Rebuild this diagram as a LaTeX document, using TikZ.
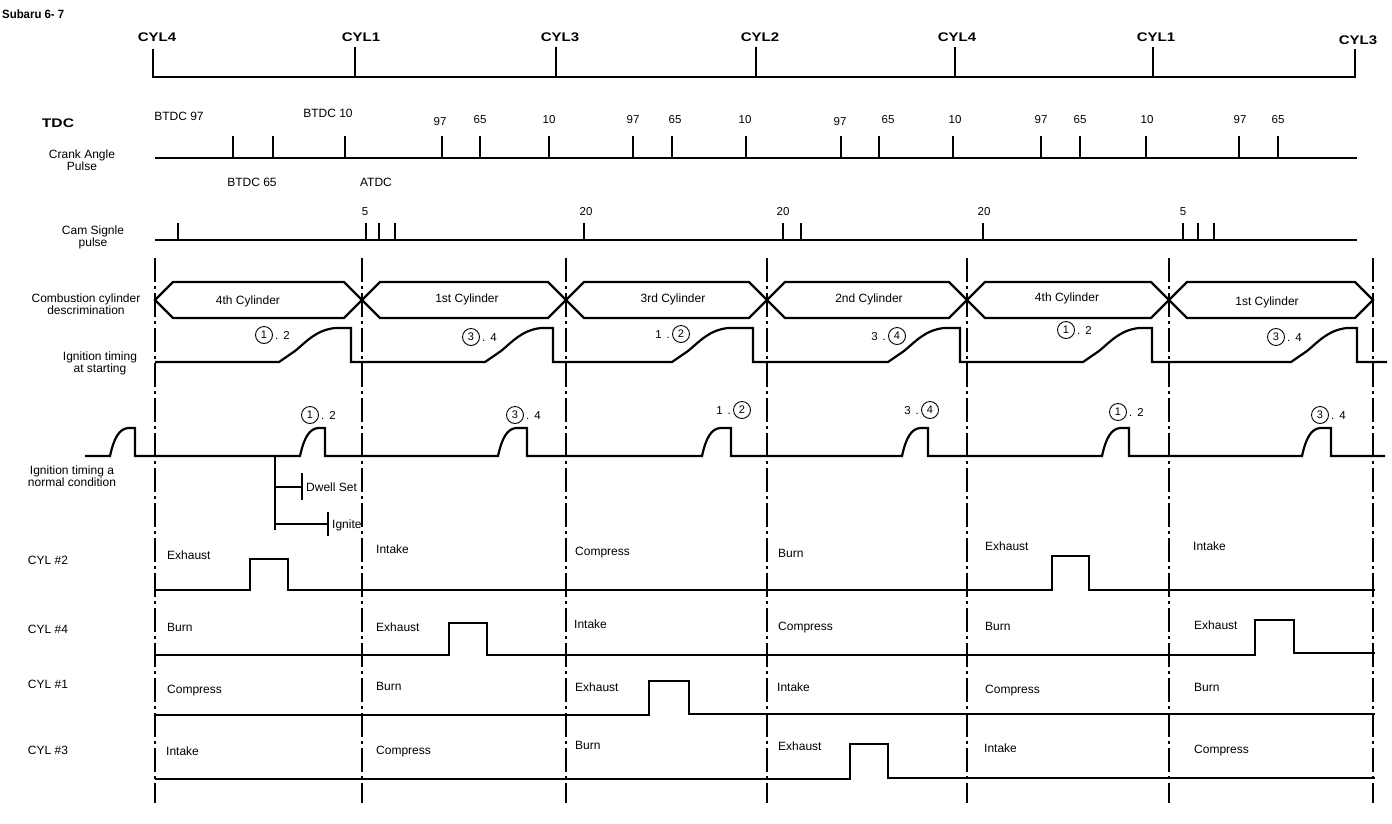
\documentclass[tikz,border=0pt]{standalone}
\usepackage{fontspec}
\usepackage{graphicx}
\setmainfont{Liberation Sans}
\tikzset{
  lbl/.style={font=\fontsize{12}{12}\selectfont, inner sep=0pt, text height=8.6pt, text depth=0pt},
  mlbl/.style={font=\fontsize{12}{12}\selectfont, inner sep=0pt, align=center},
  num/.style={font=\fontsize{11.5}{12}\selectfont, inner sep=0pt, text height=8.3pt, text depth=0pt},
  cyl/.style={font=\bfseries\fontsize{12.5}{13}\selectfont, inner sep=0pt},
  cnum/.style={circle, draw, line width=0.9pt, inner sep=0pt, minimum size=17pt, font=\fontsize{11}{11}\selectfont},
  sig/.style={line width=2.2pt, line join=miter},
  rule/.style={line width=2pt},
  thinl/.style={line width=1.1pt},
  ddot/.style={line width=2.6pt, dash pattern=on 24pt off 4pt on 3pt off 4pt},
  cycline/.style={line width=2.6pt, line join=miter},
}
\begin{document}
\begin{tikzpicture}[x=1pt,y=-1pt]
\useasboundingbox (0,0) rectangle (1392,823);

% title
\node[font=\bfseries\fontsize{12}{13}\selectfont, inner sep=0pt, anchor=west] (title) at (2,14) {\scalebox{0.95}[1]{Subaru 6- 7}};

% top ruler
\draw[rule] (153,49) -- (153,77) -- (1355,77) -- (1355,49);
\foreach \x in {355,556,756,955,1153} \draw[rule] (\x,47) -- (\x,77);
\node[cyl] (r1) at (157,37) {\scalebox{1.2}[1]{CYL4}};
\node[cyl] (r2) at (361,37) {\scalebox{1.2}[1]{CYL1}};
\node[cyl] (r3) at (560,37) {\scalebox{1.2}[1]{CYL3}};
\node[cyl] (r4) at (760,37) {\scalebox{1.2}[1]{CYL2}};
\node[cyl] (r5) at (957,37) {\scalebox{1.2}[1]{CYL4}};
\node[cyl] (r6) at (1156,37) {\scalebox{1.2}[1]{CYL1}};
\node[cyl] (r7) at (1358,40) {\scalebox{1.2}[1]{CYL3}};

% TDC
\node[cyl] (tdc) at (58,123) {\scalebox{1.25}[1]{TDC}};

% crank angle pulse
\node[mlbl] (crank) at (82,160) {Crank Angle\\Pulse};
\draw[rule] (155,158) -- (1357,158);
\foreach \x in {233,273,345,442,480,549,633,672,746,841,879,953,1041,1080,1146,1239,1278}
  \draw[rule] (\x,136) -- (\x,158);
\node[lbl] (b97) at (179,116) {BTDC 97};
\node[lbl] (b10) at (328,113) {BTDC 10};
\foreach \x/\y/\t in {440/121/97, 480/119/65, 549/119/10, 633/119/97, 675/119/65, 745/119/10,
   840/121/97, 888/119/65, 955/119/10, 1041/119/97, 1080/119/65, 1147/119/10, 1240/119/97, 1278/119/65}
  \node[num] at (\x,\y) {\t};
\node[lbl] (b65) at (252,182) {BTDC 65};
\node[lbl] (atdc) at (376,182) {ATDC};

% cam signal pulse
\node[mlbl] (cam) at (93,237) {Cam Signle\\pulse};
\draw[rule] (155,240) -- (1357,240);
\foreach \x in {178,366,379,395,584,783,801,983,1183,1198,1214}
  \draw[rule] (\x,223) -- (\x,240);
\foreach \x/\t in {365/5, 586/20, 783/20, 984/20, 1183/5}
  \node[num] at (\x,211) {\t};

% dash-dot verticals
\foreach \x in {155,362,566,767,967,1169,1373}
  \draw[ddot] (\x,258) -- (\x,803);

% combustion cylinder discrimination
\node[mlbl] (comb) at (86,304) {Combustion cylinder\\descrimination};
\foreach \a/\b in {155/362, 362/566, 566/767, 767/967, 967/1169, 1169/1373}
  \draw[sig] (\a,300) -- (\a+18,282) -- (\b-18,282) -- (\b,300) -- (\b-18,318) -- (\a+18,318) -- cycle;
\node[lbl] (h1) at (248,300) {4th Cylinder};
\node[lbl] (h2) at (467,298) {1st Cylinder};
\node[lbl] (h3) at (673,298) {3rd Cylinder};
\node[lbl] (h4) at (869,298) {2nd Cylinder};
\node[lbl] (h5) at (1067,297) {4th Cylinder};
\node[lbl] (h6) at (1267,301) {1st Cylinder};

% ignition timing at starting
\node[mlbl] (istart) at (100,363) {Ignition timing\\at starting};
\draw[sig] (155,362)
  \foreach \r/\d in {279/351, 485/553, 672/753, 888/960, 1083/1152, 1291/1357} {
    -- (\r,362) -- (\r+16,351) .. controls (\r+27,342) and (\r+37,330) .. (\r+56,328) -- (\d,328) -- (\d,362)
  } -- (1387,362);
\node[cnum] (s1) at (264,335) {1};
\node[num, anchor=west] at ([xshift=2pt]s1.east) {.\hspace{5pt}2};
\node[cnum] (s2) at (471,337) {3};
\node[num, anchor=west] at ([xshift=2pt]s2.east) {.\hspace{5pt}4};
\node[cnum] (s3) at (681,334) {2};
\node[num, anchor=east] at ([xshift=-2pt]s3.west) {1\hspace{5pt}.};
\node[cnum] (s4) at (897,336) {4};
\node[num, anchor=east] at ([xshift=-2pt]s4.west) {3\hspace{5pt}.};
\node[cnum] (s5) at (1066,330) {1};
\node[num, anchor=west] at ([xshift=2pt]s5.east) {.\hspace{5pt}2};
\node[cnum] (s6) at (1276,337) {3};
\node[num, anchor=west] at ([xshift=2pt]s6.east) {.\hspace{5pt}4};

% ignition timing at normal condition
\node[mlbl] (inorm) at (72,476) {Ignition timing a\\normal condition};
\draw[sig] (85,456)
  \foreach \r/\d in {110/135, 300/325, 498/527, 702/731, 902/928, 1102/1129, 1302/1331} {
    -- (\r,456) .. controls (\r+4,438) and (\r+9,429) .. (\r+18,428) -- (\d,428) -- (\d,456)
  } -- (1385,456);
\node[cnum] (n1) at (310,415) {1};
\node[num, anchor=west] at ([xshift=2pt]n1.east) {.\hspace{5pt}2};
\node[cnum] (n2) at (515,415) {3};
\node[num, anchor=west] at ([xshift=2pt]n2.east) {.\hspace{5pt}4};
\node[cnum] (n3) at (742,410) {2};
\node[num, anchor=east] at ([xshift=-2pt]n3.west) {1\hspace{5pt}.};
\node[cnum] (n4) at (930,410) {4};
\node[num, anchor=east] at ([xshift=-2pt]n4.west) {3\hspace{5pt}.};
\node[cnum] (n5) at (1118,412) {1};
\node[num, anchor=west] at ([xshift=2pt]n5.east) {.\hspace{5pt}2};
\node[cnum] (n6) at (1320,415) {3};
\node[num, anchor=west] at ([xshift=2pt]n6.east) {.\hspace{5pt}4};

% dwell / ignite markers
\coordinate (dtop) at (275,456);
\coordinate (dbot) at (275,530);
\draw[line width=2.6pt] (dtop) -- (dbot);
\coordinate (dw) at (275,487);
\coordinate (ig) at (275,524);
\draw[thinl] (dw) -- (302,487);
\draw[thinl] (302,473) -- (302,500);
\node[lbl, anchor=west] (dwell) at (306,487) {Dwell Set};
\draw[thinl] (ig) -- (328,524);
\draw[thinl] (328,512) -- (328,536);
\node[lbl, anchor=west] (ignite) at (332,524) {Ignite};

% cylinder strokes
\node[lbl] (cy2) at (48,560) {CYL \#2};
\node[lbl] (cy4) at (48,629) {CYL \#4};
\node[lbl] (cy1) at (48,684) {CYL \#1};
\node[lbl] (cy3) at (48,750) {CYL \#3};

\draw[cycline] (155,590) -- (250,590) -- (250,559) -- (288,559) -- (288,590) -- (1052,590) -- (1052,556) -- (1089,556) -- (1089,590) -- (1375,590);
\draw[cycline] (155,655) -- (449,655) -- (449,623) -- (487,623) -- (487,655) -- (1255,655) -- (1255,620) -- (1294,620) -- (1294,653) -- (1375,653);
\draw[cycline] (155,715) -- (649,715) -- (649,681) -- (689,681) -- (689,714) -- (1375,714);
\draw[cycline] (155,779) -- (850,779) -- (850,744) -- (888,744) -- (888,778) -- (1375,778);

\foreach \x/\y/\t in {
  167/555/Exhaust, 376/549/Intake, 575/551/Compress, 778/553/Burn, 985/546/Exhaust, 1193/546/Intake,
  167/627/Burn, 376/627/Exhaust, 574/624/Intake, 778/626/Compress, 985/626/Burn, 1194/625/Exhaust,
  167/689/Compress, 376/686/Burn, 575/687/Exhaust, 777/687/Intake, 985/689/Compress, 1194/687/Burn,
  166/751/Intake, 376/750/Compress, 575/745/Burn, 778/746/Exhaust, 984/748/Intake, 1194/749/Compress}
  \node[lbl, anchor=west] at (\x,\y) {\t};
\end{tikzpicture}
\end{document}
